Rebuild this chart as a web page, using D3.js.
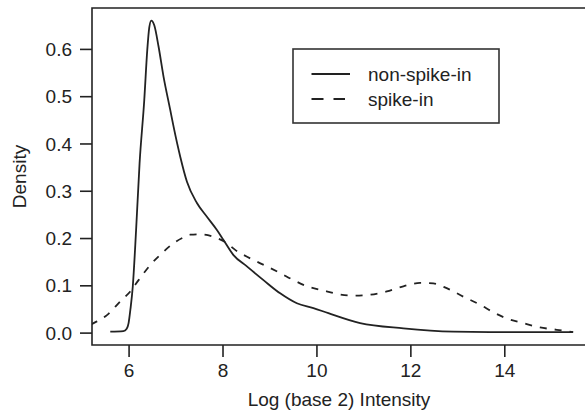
<!DOCTYPE html>
<html>
<head>
<meta charset="utf-8">
<script src="https://cdn.jsdelivr.net/npm/d3@7"></script>
<style>
  html, body { margin: 0; padding: 0; background: #fff; }
  svg { display: block; }
  text { font-family: "Liberation Sans", Arial, Helvetica, sans-serif; fill: #222; }
</style>
</head>
<body>
<svg id="chart" width="585" height="413"></svg>
<script>
// ---- data ----
const nonSpikeX = [5.61, 5.89, 5.96, 6.00, 6.04, 6.089, 6.160, 6.234, 6.334, 6.398, 6.44, 6.483, 6.547, 6.638, 6.745, 6.887, 6.957, 7.1, 7.243, 7.455, 7.668, 7.881, 8.021, 8.234, 8.519, 8.872, 9.228, 9.583, 9.936, 10.255, 10.93, 11.851, 12.915, 13.696, 15.46];
const nonSpikeY = [0.002, 0.003, 0.008, 0.020, 0.050, 0.097, 0.217, 0.358, 0.492, 0.598, 0.645, 0.660, 0.650, 0.605, 0.541, 0.471, 0.436, 0.372, 0.319, 0.274, 0.245, 0.217, 0.196, 0.164, 0.140, 0.111, 0.083, 0.062, 0.052, 0.041, 0.020, 0.009, 0.002, 0.001, 0.001];

const spikeX = [5.20, 5.255, 5.54, 5.823, 6.036, 6.213, 6.462, 6.711, 6.957, 7.206, 7.313, 7.53, 7.881, 8.094, 8.27, 8.589, 8.945, 9.228, 9.511, 9.796, 10.149, 10.434, 10.787, 11.143, 11.498, 11.851, 12.206, 12.489, 12.774, 13.128, 13.483, 13.766, 14.051, 14.404, 14.76, 15.115, 15.468];
const spikeY = [0.017, 0.020, 0.037, 0.066, 0.087, 0.111, 0.143, 0.168, 0.189, 0.203, 0.207, 0.208, 0.200, 0.189, 0.175, 0.157, 0.140, 0.126, 0.111, 0.098, 0.089, 0.082, 0.078, 0.080, 0.087, 0.098, 0.105, 0.104, 0.094, 0.076, 0.059, 0.043, 0.030, 0.020, 0.011, 0.006, 0.001];

const xTicks = [6, 8, 10, 12, 14];
const yTicks = [0.0, 0.1, 0.2, 0.3, 0.4, 0.5, 0.6];
const seriesNames = ["non-spike-in", "spike-in"];
const xTitle = "Log (base 2) Intensity";
const yTitle = "Density";

// ---- layout ----
const W = 585, H = 413;
const L = 92, R = 586, T = 8, B = 345;
const ink = "#222";
const fontSize = 19;

const x = d3.scaleLinear().domain([5.221, 15.74]).range([L, R]);
const y = d3.scaleLinear().domain([-0.02621, 0.6865]).range([B, T]);

const svg = d3.select("#chart");

svg.append("defs").append("clipPath").attr("id", "plotclip")
  .append("rect").attr("x", L).attr("y", T).attr("width", R - L).attr("height", B - T);

// curves
const line = d3.line().x(d => x(d[0])).y(d => y(d[1])).curve(d3.curveMonotoneX);
const g = svg.append("g").attr("clip-path", "url(#plotclip)");
g.append("path")
  .attr("d", line(nonSpikeX.map((v, i) => [v, nonSpikeY[i]])))
  .attr("fill", "none").attr("stroke", ink).attr("stroke-width", 1.8)
  .attr("stroke-linejoin", "round");
g.append("path")
  .attr("d", line(spikeX.map((v, i) => [v, spikeY[i]])))
  .attr("fill", "none").attr("stroke", ink).attr("stroke-width", 1.8)
  .attr("stroke-dasharray", "7,8");

// box
svg.append("path")
  .attr("d", `M${R},${T}H${L}V${B}H${R}`)
  .attr("fill", "none").attr("stroke", ink).attr("stroke-width", 1.6);

// axes
const xAxis = d3.axisBottom(x).tickValues(xTicks).tickSize(12).tickPadding(6).tickFormat(d3.format("d"));
const gx = svg.append("g").attr("transform", `translate(0,${B})`).call(xAxis);
gx.select(".domain").remove();
gx.selectAll("line").attr("stroke", ink).attr("stroke-width", 1.6);
gx.selectAll("text").attr("font-size", fontSize).attr("font-family", "Liberation Sans, Arial, sans-serif")
  .attr("fill", ink).attr("dy", null).attr("y", 32);

const yAxis = d3.axisLeft(y).tickValues(yTicks).tickSize(12).tickPadding(8).tickFormat(d3.format(".1f"));
const gy = svg.append("g").attr("transform", `translate(${L},0)`).call(yAxis);
gy.select(".domain").remove();
gy.selectAll("line").attr("stroke", ink).attr("stroke-width", 1.6);
gy.selectAll("text").attr("font-size", fontSize).attr("font-family", "Liberation Sans, Arial, sans-serif")
  .attr("fill", ink).attr("x", -20).attr("dy", "0.35em");

// titles
svg.append("text").attr("x", (L + R) / 2).attr("y", 406).attr("text-anchor", "middle")
  .attr("font-size", fontSize).text(xTitle);
svg.append("text").attr("transform", `translate(26,${(T + B) / 2}) rotate(-90)`)
  .attr("text-anchor", "middle").attr("font-size", fontSize).text(yTitle);

// legend
const lg = svg.append("g");
lg.append("rect").attr("x", 293).attr("y", 49).attr("width", 206).attr("height", 74)
  .attr("fill", "#fff").attr("stroke", "#333").attr("stroke-width", 1.6);
const legY = [74, 99];
const dashes = [null, "12,10"];
seriesNames.forEach((name, i) => {
  lg.append("line").attr("x1", 311.5).attr("x2", i === 0 ? 350 : 345)
    .attr("y1", legY[i]).attr("y2", legY[i])
    .attr("stroke", ink).attr("stroke-width", 2.2)
    .attr("stroke-dasharray", dashes[i]);
  lg.append("text").attr("x", 368).attr("y", legY[i]).attr("dy", "0.35em")
    .attr("font-size", fontSize).text(name);
});
</script>
</body>
</html>
